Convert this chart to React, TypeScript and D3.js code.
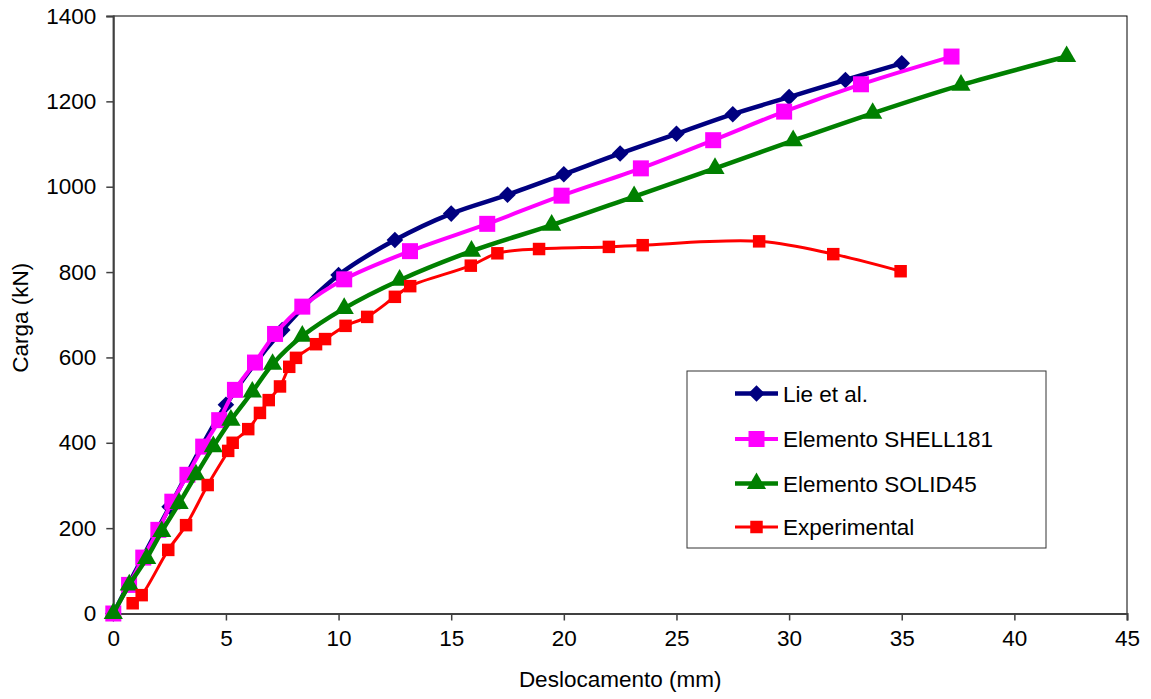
import React, { useEffect, useRef } from "react";
import * as d3 from "d3";

// deslocamento (mm) / carga (kN)
const lieX = [0, 2.5, 5, 7.5, 10, 12.5, 15, 17.5, 20, 22.5, 25, 27.5, 30, 32.5, 35];
const lieY = [0, 250, 489, 664, 793, 875, 937, 981, 1029, 1078, 1124, 1170, 1210, 1250, 1289];

const shellX = [0, 0.7, 1.33, 2.0, 2.62, 3.29, 3.99, 4.7, 5.4, 6.29, 7.18, 8.39, 10.25, 13.17, 16.6, 19.9, 23.42, 26.63, 29.78, 33.19, 37.21];
const shellY = [0, 67, 131, 196, 262, 325, 391, 453, 524, 588, 655, 719, 783, 849, 913, 979, 1043, 1109, 1176, 1240, 1305];

const solidX = [0, 0.71, 1.48, 2.15, 2.92, 3.67, 4.44, 5.22, 6.17, 7.07, 8.39, 10.25, 12.71, 15.9, 19.46, 23.12, 26.71, 30.18, 33.71, 37.63, 42.32];
const solidY = [0, 67, 129, 192, 258, 325, 391, 453, 519, 584, 650, 715, 781, 849, 910, 977, 1043, 1108, 1172, 1238, 1305];

const expX = [0.86, 1.26, 2.44, 3.23, 4.19, 5.1, 5.3, 5.99, 6.51, 6.9, 7.4, 7.81, 8.11, 9.0, 9.4, 10.31, 11.27, 12.5, 13.18, 15.87, 17.05, 18.9, 22.0, 23.5, 28.67, 31.96, 34.95];
const expY = [24, 43, 149, 207, 301, 381, 400, 432, 470, 500, 532, 578, 599, 631, 643, 674, 695, 742, 767, 815, 844, 854, 859, 863, 872, 842, 802];

const xTicks = [0, 5, 10, 15, 20, 25, 30, 35, 40, 45];
const yTicks = [0, 200, 400, 600, 800, 1000, 1200, 1400];

const seriesNames = ["Lie et al.", "Elemento SHELL181", "Elemento SOLID45", "Experimental"];

const W = 1151;
const H = 699;
const FONT = "'Liberation Sans', Arial, sans-serif";

type Pt = [number, number];

const App = () => {
  const ref = useRef<SVGSVGElement>(null);

  useEffect(() => {
    const svg = d3.select(ref.current);
    svg.selectAll("*").remove();

    const left = 113.3, right = 1127, top = 16, bottom = 613.5;

    const x = d3.scaleLinear().domain([0, 45]).range([left, right]);
    const y = d3.scaleLinear().domain([0, 1400]).range([bottom, top]);

    // plot frame
    svg.append("rect")
      .attr("x", left).attr("y", top)
      .attr("width", right - left).attr("height", bottom - top)
      .attr("fill", "none").attr("stroke", "#000").attr("stroke-width", 1);

    // x axis
    const gx = svg.append("g").attr("transform", `translate(0,${bottom})`)
      .call(d3.axisBottom(x).tickValues(xTicks).tickSize(7).tickPadding(10).tickFormat(d3.format("d")));
    gx.select(".domain").attr("stroke", "#404040").attr("stroke-width", 2);
    gx.selectAll(".tick line").attr("stroke", "#404040").attr("stroke-width", 1.5);
    gx.selectAll("text").attr("font-family", FONT).attr("font-size", 22.5).attr("fill", "#000");

    // y axis
    const gy = svg.append("g").attr("transform", `translate(${left},0)`)
      .call(d3.axisLeft(y).tickValues(yTicks).tickSize(7).tickPadding(10).tickFormat(d3.format("d")));
    gy.select(".domain").attr("stroke", "#404040").attr("stroke-width", 2);
    gy.selectAll(".tick line").attr("stroke", "#404040").attr("stroke-width", 1.5);
    gy.selectAll("text").attr("font-family", FONT).attr("font-size", 22.5).attr("fill", "#000");

    // axis titles
    svg.append("text")
      .attr("x", (left + right) / 2).attr("y", 687)
      .attr("text-anchor", "middle")
      .attr("font-family", FONT).attr("font-size", 22.5)
      .text("Deslocamento (mm)");

    svg.append("text")
      .attr("transform", `translate(28,${(top + bottom) / 2 + 3}) rotate(-90)`)
      .attr("text-anchor", "middle")
      .attr("font-family", FONT).attr("font-size", 22.5)
      .text("Carga (kN)");

    const line = d3.line<Pt>()
      .x(d => x(d[0])).y(d => y(d[1]))
      .curve(d3.curveCatmullRom.alpha(0.5));

    const zip = (xs: number[], ys: number[]): Pt[] => xs.map((v, i) => [v, ys[i]]);

    const series = [
      { name: seriesNames[0], pts: zip(lieX, lieY), color: "#000080", width: 4.5, shape: d3.symbolDiamond2, size: 175 },
      { name: seriesNames[1], pts: zip(shellX, shellY), color: "#FF00FF", width: 4, shape: d3.symbolSquare, size: 256 },
      { name: seriesNames[2], pts: zip(solidX, solidY), color: "#008000", width: 4.5, shape: d3.symbolTriangle, size: 160 },
      { name: seriesNames[3], pts: zip(expX, expY), color: "#FF0000", width: 3, shape: d3.symbolSquare, size: 156 },
    ];

    const symbolPath = (s: typeof series[number]) => d3.symbol().type(s.shape).size(s.size)();

    series.forEach(s => {
      const g = svg.append("g");
      g.append("path")
        .attr("d", line(s.pts))
        .attr("fill", "none")
        .attr("stroke", s.color)
        .attr("stroke-width", s.width)
        .attr("stroke-linejoin", "round");
      g.selectAll("path.m")
        .data(s.pts)
        .enter().append("path")
        .attr("class", "m")
        .attr("d", symbolPath(s))
        .attr("transform", d => `translate(${x(d[0])},${y(d[1])})`)
        .attr("fill", s.color);
    });

    // legend
    const lg = svg.append("g");
    lg.append("rect")
      .attr("x", 687).attr("y", 371).attr("width", 359).attr("height", 177)
      .attr("fill", "#fff").attr("stroke", "#333").attr("stroke-width", 1);

    const rowY = [393.5, 439, 483.5, 527];
    series.forEach((s, i) => {
      lg.append("line")
        .attr("x1", 735).attr("x2", 778)
        .attr("y1", rowY[i]).attr("y2", rowY[i])
        .attr("stroke", s.color).attr("stroke-width", s.width);
      lg.append("path")
        .attr("d", symbolPath(s))
        .attr("transform", `translate(756.5,${rowY[i]})`)
        .attr("fill", s.color);
      lg.append("text")
        .attr("x", 783).attr("y", rowY[i])
        .attr("dy", "0.36em")
        .attr("font-family", FONT).attr("font-size", 22.5)
        .text(s.name);
    });
  }, []);

  return (
    <svg ref={ref} width={W} height={H}
      style={{ position: "absolute", left: 0, top: 0, background: "#fff" }} />
  );
};

export default App;
